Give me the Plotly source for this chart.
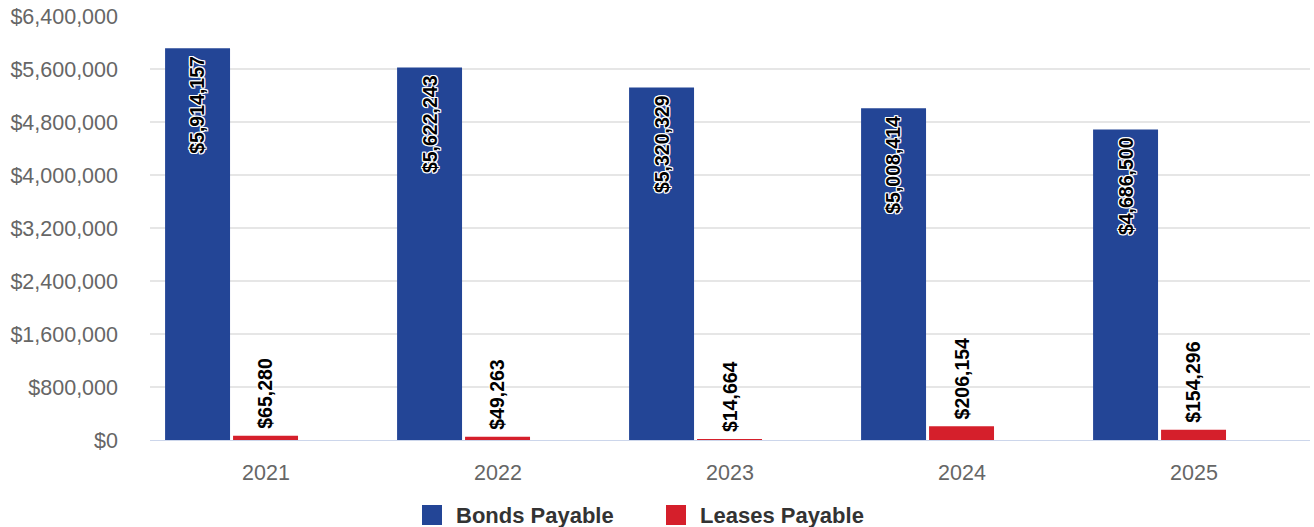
import plotly.graph_objects as go

# Year-end balances
years = ["2021", "2022", "2023", "2024", "2025"]
bonds_payable = [5914157, 5622243, 5320329, 5008414, 4686500]
leases_payable = [65280, 49263, 14664, 206154, 154296]

y_ticks = [0, 800000, 1600000, 2400000, 3200000, 4000000, 4800000, 5600000, 6400000]

BLUE = "#234596"
RED = "#D51F2B"
FONT = "Liberation Sans, Arial, Helvetica, sans-serif"
OUTLINE = ("-1px -1px 0 #fff, 1px -1px 0 #fff, -1px 1px 0 #fff, 1px 1px 0 #fff, "
           "0 1px 0 #fff, 0 -1px 0 #fff, 1px 0 0 #fff, -1px 0 0 #fff")

W, H = 1314, 527
M_L, M_R, M_T, M_B = 150, 4, 16, 87
PLOT_W = W - M_L - M_R
PLOT_H = H - M_T - M_B

BAR_W = 0.28
OFF_BONDS = -0.435
OFF_LEASES = -0.142


def fmt(v):
    return "${:,.0f}".format(v)


def px_x(px):
    return (px - M_L) / PLOT_W


def px_y(py):
    return (H - M_B - py) / PLOT_H


fig = go.Figure()
fig.add_trace(go.Bar(
    x=years, y=bonds_payable, name="Bonds Payable",
    marker=dict(color=BLUE, line=dict(width=0)),
    width=BAR_W, offset=OFF_BONDS, showlegend=False, hoverinfo="skip",
))
fig.add_trace(go.Bar(
    x=years, y=leases_payable, name="Leases Payable",
    marker=dict(color=RED, line=dict(width=0)),
    width=BAR_W, offset=OFF_LEASES, showlegend=False, hoverinfo="skip",
))

annotations = []
label_font = dict(family=FONT, size=19.5, color="#000000", weight="bold", shadow=OUTLINE)
for i, v in enumerate(bonds_payable):
    annotations.append(dict(
        x=i + OFF_BONDS + BAR_W / 2, y=v, xref="x", yref="y",
        text=fmt(v), textangle=-90, showarrow=False,
        xanchor="center", yanchor="top", yshift=-6, font=label_font,
    ))
for i, v in enumerate(leases_payable):
    annotations.append(dict(
        x=i + OFF_LEASES + BAR_W / 2, y=v, xref="x", yref="y",
        text=fmt(v), textangle=-90, showarrow=False,
        xanchor="center", yanchor="bottom", yshift=5, font=label_font,
    ))

# Legend drawn as swatches plus labels below the axis
legend_items = [("Bonds Payable", BLUE, 422, 456), ("Leases Payable", RED, 666, 700)]
shapes = []
for name, color, sx, tx in legend_items:
    shapes.append(dict(
        type="rect", xref="paper", yref="paper",
        x0=px_x(sx), x1=px_x(sx + 20), y0=px_y(525), y1=px_y(505),
        fillcolor=color, line=dict(width=0),
    ))
    annotations.append(dict(
        x=px_x(tx - 2), y=px_y(515), xref="paper", yref="paper",
        text=name, showarrow=False, xanchor="left", yanchor="middle",
        font=dict(family=FONT, size=22, color="#333333", weight="bold"),
    ))

fig.update_layout(
    width=W, height=H,
    margin=dict(l=M_L, r=M_R, t=M_T, b=M_B, pad=0),
    paper_bgcolor="white", plot_bgcolor="white",
    barmode="overlay",
    showlegend=False,
    annotations=annotations,
    shapes=shapes,
    font=dict(family=FONT, color="#666666", size=21),
    xaxis=dict(
        type="category", range=[-0.5, 4.5],
        showgrid=False, showline=True, linecolor="#ccd6eb", linewidth=1,
        ticks="", ticklabelstandoff=13,
        tickfont=dict(family=FONT, size=21.5, color="#666666"),
        fixedrange=True,
    ),
    yaxis=dict(
        range=[0, 6400000], tickvals=y_ticks,
        ticktext=[fmt(t) for t in y_ticks],
        showgrid=True, gridcolor="#e6e6e6", gridwidth=2,
        zeroline=False, showline=False, ticks="",
        ticklabelstandoff=31,
        tickfont=dict(family=FONT, size=21.5, color="#666666"),
        fixedrange=True,
    ),
)

fig.write_html("out.html", config={"displayModeBar": False})
